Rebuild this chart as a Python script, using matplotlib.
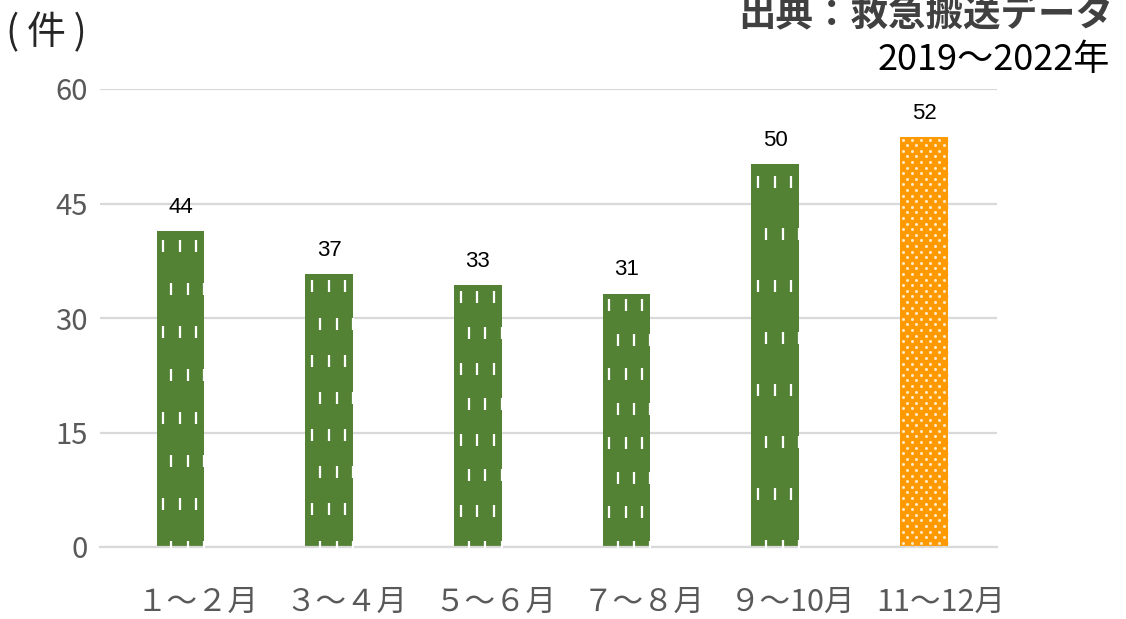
import numpy as np
import matplotlib
matplotlib.use("Agg")
import matplotlib.pyplot as plt
import matplotlib.transforms as mtransforms

plt.rcParams["font.family"] = ["Noto Sans CJK JP", "DejaVu Sans"]

# data
periods = ["１～２月", "３～４月", "５～６月", "７～８月", "９～10月", "11～12月"]
bar_heights = [41.4, 35.8, 34.3, 33.2, 50.2, 53.7]
count_labels = ["44", "37", "33", "31", "50", "52"]
highlight = [False, False, False, False, False, True]

GREEN = "#548235"
ORANGE = "#ff9900"
GRID = "#d9d9d9"
TICK = "#595959"

W, H = 1126, 619
fig = plt.figure(figsize=(W / 100, H / 100), dpi=100)
ax = fig.add_axes([100 / W, 72 / H, 897 / W, 458 / H])

x = np.arange(len(periods))
colors = [ORANGE if h else GREEN for h in highlight]
bars = ax.bar(x, bar_heights, width=0.32, color=colors, linewidth=0, zorder=2)

XL = (-0.541, 5.491)
ax.set_xlim(*XL)
ax.set_ylim(0, 60)
ax.set_yticks([0, 15, 30, 45, 60])
ax.yaxis.grid(True, color=GRID, linewidth=1.6, zorder=0)
ax.set_axisbelow(True)
for s in ["top", "right", "left"]:
    ax.spines[s].set_visible(False)
ax.spines["bottom"].set_color(GRID)
ax.spines["bottom"].set_linewidth(1.6)
ax.tick_params(axis="both", length=0, labelsize=21, labelcolor=TICK)
ax.tick_params(axis="x", pad=29, labelsize=22)
ax.tick_params(axis="y", pad=9)
ax.set_xticks(x)
ax.set_xticklabels(periods)
shift = mtransforms.ScaledTranslation(17 / 100, 0, fig.dpi_scale_trans)
for lab in ax.get_xticklabels():
    lab.set_transform(lab.get_transform() + shift)

# pixel size of one data unit, for the fill textures
px_x = 897 / (XL[1] - XL[0])
px_y = 458 / 60


def dash_texture(bar):
    x0, w, h = bar.get_x(), bar.get_width(), bar.get_height()
    step = h / 7.35
    xs, ys = [], []
    for j in range(9):
        yy = h - (0.34 + j) * step
        offs = [0.14, 0.49, 0.83] if j % 2 == 0 else [0.31, 0.66, 1.0]
        for o in offs:
            xs.append(x0 + o * w)
            ys.append(yy)
    pts = ax.plot(xs, ys, linestyle="none", marker="|", markersize=8.6,
                  markeredgewidth=1.6, color="white", zorder=3)[0]
    pts.set_clip_path(bar)


def dot_texture(bar):
    x0, w, h = bar.get_x(), bar.get_width(), bar.get_height()
    dx = 9.2 / px_x
    dy = 5.6 / px_y
    xs, ys = [], []
    j = 0
    yy = h - 2.5 / px_y
    while yy > -dy:
        start = x0 + (2.5 / px_x if j % 2 == 0 else 2.5 / px_x + dx / 2)
        xx = start
        while xx < x0 + w + dx:
            xs.append(xx)
            ys.append(yy)
            xx += dx
        yy -= dy
        j += 1
    pts = ax.plot(xs, ys, linestyle="none", marker="o", markersize=2.2,
                  markeredgewidth=0, color="#ffe9c4", zorder=3)[0]
    pts.set_clip_path(bar)


for bar, hl in zip(bars, highlight):
    if hl:
        dot_texture(bar)
    else:
        dash_texture(bar)

for bar, lab in zip(bars, count_labels):
    ax.annotate(lab, (bar.get_x() + bar.get_width() / 2, bar.get_height()),
                xytext=(0, 17), textcoords="offset points", ha="center",
                va="center", fontsize=16, family=["Liberation Sans", "DejaVu Sans"],
                color="black")

fig.text(6 / W, 1 - 33 / H, "(\u2009件\u2009)", fontsize=28, color="#262626",
         ha="left", va="center")
fig.text(1113 / W, 1 - 15 / H, "出典：救急搬送データ", fontsize=27,
         fontweight="bold", color="#404040", ha="right", va="center")
fig.text(1110 / W, 1 - 60 / H, "2019～2022年", fontsize=26, color="black",
         ha="right", va="center")

fig.savefig("out.png", dpi=100)
